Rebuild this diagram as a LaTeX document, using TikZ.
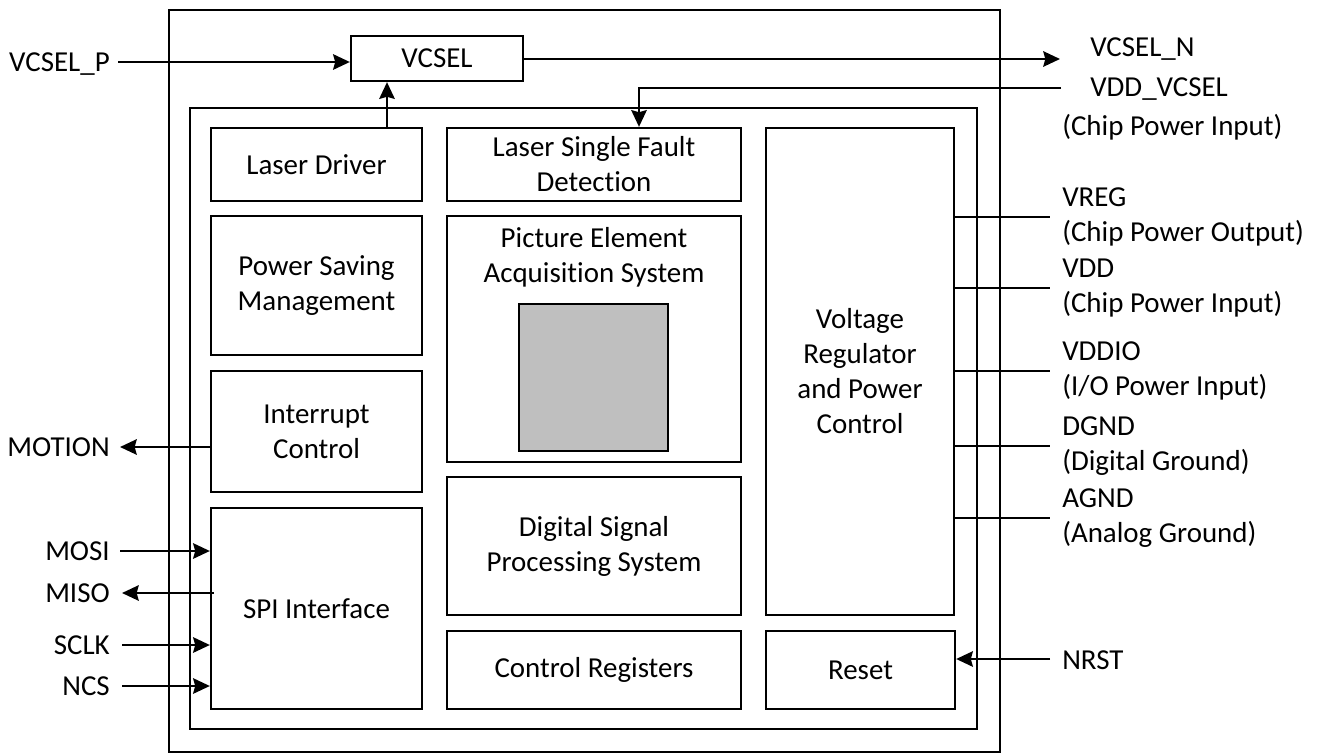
\documentclass[tikz,border=0pt]{standalone}
\usepackage{fontspec}
\setmainfont{Carlito}[Ligatures=NoCommon]
\usetikzlibrary{arrows.meta,fit,calc}
\definecolor{pixgray}{RGB}{191,191,191}
\begin{document}
\begin{tikzpicture}[x=0.75pt,y=-0.75pt,
  every node/.style={font=\fontsize{21.7}{26.25}\selectfont, inner sep=0pt},
  blk/.style={draw, line width=1.7pt, align=center},
  wire/.style={line width=2pt},
  arr/.style={wire, -{Stealth[length=12.5pt,width=11.5pt,inset=1.5pt]}},
  lbl/.style={align=left, anchor=west},
  lblr/.style={anchor=east, text depth=0pt},
  lbls/.style={anchor=west, text depth=0pt}]
\useasboundingbox (0,0) rectangle (1320,753);

% frames
\node[blk, fit={(169,10)(1000,752)}] (chip) {};
\node[blk, fit={(190,108)(977,729)}] (core) {};

% blocks
\node[blk, minimum width=129pt, minimum height=33.75pt] (vcsel) at (437,58.5) {VCSEL};
\node[blk, minimum width=158.25pt, minimum height=54.75pt] (ld) at (316.5,164.5) {Laser Driver};
\node[blk, minimum width=158.25pt, minimum height=104.25pt] (psm) at (316.5,285.5) {Power Saving\\Management};
\node[blk, minimum width=158.25pt, minimum height=90.75pt] (irq) at (316.5,431.5) {Interrupt\\Control};
\node[blk, minimum width=158.25pt, minimum height=150.75pt] (spi) at (316.5,608.5) {SPI Interface};
\node[blk, minimum width=220.5pt, minimum height=54.75pt] (lsfd) at (594,164.5) {Laser Single Fault\\Detection};
\node[blk, minimum width=220.5pt, minimum height=184.5pt] (peas) at (594,339) {};
\node[align=center] (peast) at (594,257) {Picture Element\\Acquisition System};
\node[draw, line width=1.7pt, fill=pixgray, minimum width=111.75pt, minimum height=110.25pt] (pix) at (593.5,377.5) {};
\node[blk, minimum width=220.5pt, minimum height=103.5pt] (dsp) at (594,546) {Digital Signal\\Processing System};
\node[blk, minimum width=220.5pt, minimum height=58.5pt] (creg) at (594,670) {Control Registers};
\node[blk, minimum width=141pt, minimum height=365.25pt] (vr) at (860,371.5) {Voltage\\Regulator\\and Power\\Control};
\node[blk, minimum width=141.75pt, minimum height=58.5pt] (rst) at (860.5,670) {Reset};

% left labels
\node[lblr] (tP) at (110,62) {VCSEL\_P};
\node[lblr] (tMOTION) at (110,447) {MOTION};
\node[lblr] (tMOSI) at (110,551) {MOSI};
\node[lblr] (tMISO) at (110,593) {MISO};
\node[lblr] (tSCLK) at (110,645) {SCLK};
\node[lblr] (tNCS) at (110,686) {NCS};

\coordinate (cP) at (118,62);
\coordinate (cMOTION) at (120,447);
\coordinate (cMOSI) at (120,551);
\coordinate (cMISO) at (122,593);
\coordinate (cSCLK) at (122,645);
\coordinate (cNCS) at (122,686);

% top right labels
\node[lbls] (tN) at (1090,47) {VCSEL\_N};
\node[lbls] (tVV) at (1090,87) {VDD\_VCSEL};
\node[anchor=west] (tVVd) at (1062,127) {(Chip Power Input)};
\coordinate (cN) at (1060,59);
\coordinate (cVV) at (1061,88);
\coordinate (cVVx) at (639,88);
\coordinate (cLD) at (387,100);

% right labels
\node[lbl] (tVREG) at (1062,217) {VREG\\(Chip Power Output)};
\node[lbl] (tVDD) at (1062,288) {VDD\\(Chip Power Input)};
\node[lbl] (tVDDIO) at (1062,371) {VDDIO\\(I/O Power Input)};
\node[lbl] (tDGND) at (1062,446) {DGND\\(Digital Ground)};
\node[lbl] (tAGND) at (1062,518) {AGND\\(Analog Ground)};
\node[lbls] (tNRST) at (1062,660) {NRST};

\coordinate (cVREG) at (1050,217);
\coordinate (cVDD) at (1050,288);
\coordinate (cVDDIO) at (1050,371);
\coordinate (cDGND) at (1050,446);
\coordinate (cAGND) at (1050,518);
\coordinate (cNRST) at (1050,659);

% connectors
\draw[arr] (cP) -- (vcsel.west |- cP);
\draw[arr] (vcsel.east |- cN) -- (cN);
\draw[arr] (cVV) -- (cVVx) -- (cVVx |- lsfd.north);
\draw[arr] (ld.north -| cLD) -- (vcsel.south -| cLD);

\draw[arr] (irq.west |- cMOTION) -- (cMOTION);
\draw[arr] (cMOSI) -- (spi.west |- cMOSI);
\draw[arr] ($(spi.west |- cMISO)+(4,0)$) -- (cMISO);
\draw[arr] (cSCLK) -- (spi.west |- cSCLK);
\draw[arr] (cNCS) -- (spi.west |- cNCS);

\draw[wire] (vr.east |- cVREG) -- (cVREG);
\draw[wire] (vr.east |- cVDD) -- (cVDD);
\draw[wire] (vr.east |- cVDDIO) -- (cVDDIO);
\draw[wire] (vr.east |- cDGND) -- (cDGND);
\draw[wire] (vr.east |- cAGND) -- (cAGND);
\draw[arr] (cNRST) -- (rst.east |- cNRST);
\end{tikzpicture}
\end{document}
